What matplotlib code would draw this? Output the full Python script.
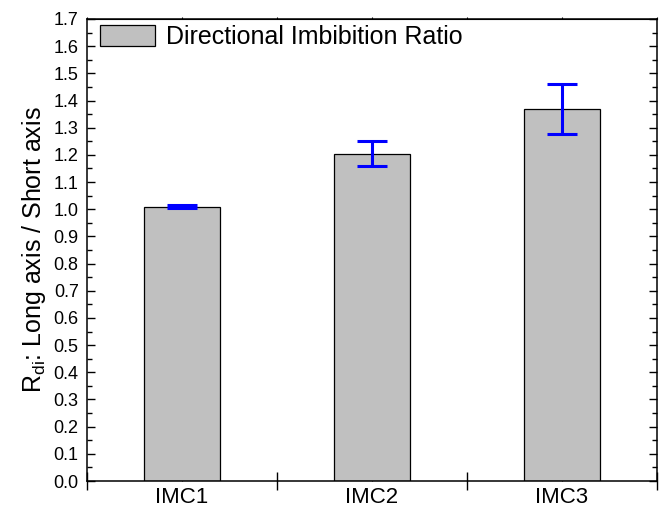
import matplotlib
matplotlib.use('Agg')
import matplotlib.pyplot as plt
from matplotlib.ticker import MultipleLocator, FixedLocator

plt.rcParams['font.family'] = ['Liberation Sans', 'DejaVu Sans']

# data
samples = ['IMC1', 'IMC2', 'IMC3']
ratio = [1.01, 1.205, 1.37]
ratio_err = [0.005, 0.047, 0.092]

fig = plt.figure(figsize=(6.67, 5.08), dpi=100)
ax = fig.add_axes([0.1304, 0.0531, 0.8546, 0.9095])

x = [1, 2, 3]
ax.bar(x, ratio, width=0.4, color='#c0c0c0', edgecolor='black', linewidth=0.9,
       label='Directional Imbibition Ratio', zorder=2)
ax.errorbar(x, ratio, yerr=ratio_err, fmt='none', ecolor='#0000ff',
            elinewidth=2.2, capsize=10.5, capthick=2.2, zorder=3)

ax.set_xlim(0.5, 3.5)
ax.set_ylim(0, 1.7)

# category boundaries as major ticks, labels at bar centres
ax.xaxis.set_major_locator(FixedLocator([0.5, 1.5, 2.5, 3.5]))
ax.xaxis.set_minor_locator(FixedLocator(x))
ax.set_xticklabels([])
for xi, s in zip(x, samples):
    ax.text(xi, -0.012, s, transform=ax.get_xaxis_transform(), ha='center',
            va='top', fontsize=16)
ax.tick_params(axis='x', which='major', direction='inout', length=13.5,
               width=1.0)
ax.tick_params(axis='x', which='minor', direction='in', length=2.5,
               width=0.8)
ax.secondary_xaxis('top').tick_params(axis='x', which='both', length=1.5,
                                      labeltop=False)
ax.spines['top'].set_linewidth(1.1)

ax.yaxis.set_major_locator(MultipleLocator(0.1))
ax.yaxis.set_minor_locator(MultipleLocator(0.05))
ax.yaxis.set_major_formatter(matplotlib.ticker.FormatStrFormatter('%.1f'))
ax.tick_params(axis='y', which='major', direction='in', length=6, width=1.0,
               right=True, labelsize=13, pad=6)
ax.tick_params(axis='y', which='minor', direction='in', length=3.5,
               width=1.0, right=True)

for sp in ax.spines.values():
    sp.set_linewidth(1.1)

ax.set_ylabel(r'R$_\mathregular{di}$: Long axis / Short axis', fontsize=18,
              labelpad=4)

ax.legend(loc='upper left', bbox_to_anchor=(0.009, 1.004), frameon=False,
          fontsize=18, handlelength=2.2, handleheight=0.95,
          handletextpad=0.45, borderaxespad=0.1, borderpad=0.2)

fig.savefig('out.png', dpi=100)
